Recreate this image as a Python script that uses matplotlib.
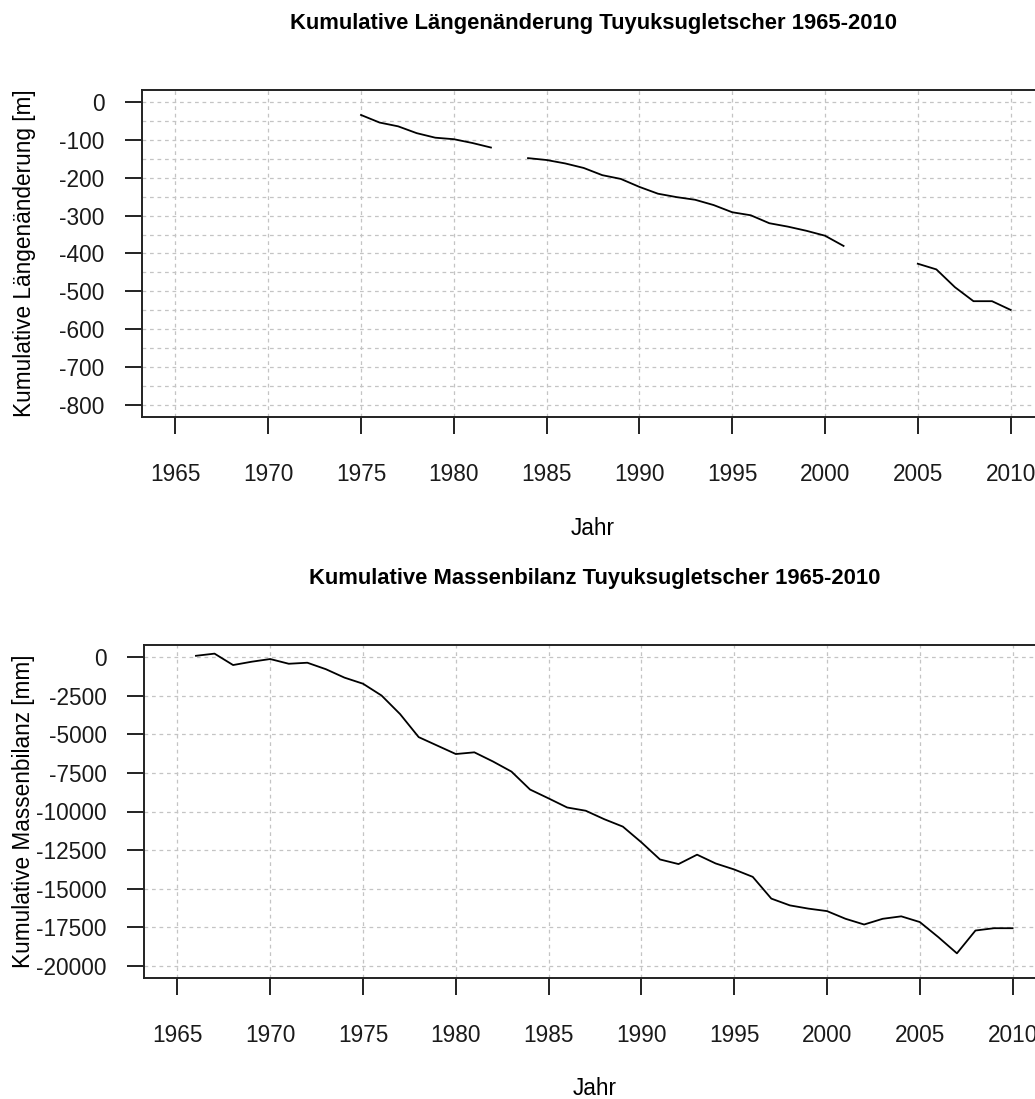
import numpy as np
import matplotlib.pyplot as plt

plt.rcParams['font.family'] = ['Liberation Sans', 'DejaVu Sans']
plt.rcParams['axes.unicode_minus'] = False

# Kumulative Längenänderung [m], NaN = keine Messung
len_years = np.arange(1975, 2011)
len_values = [-34, -54, -64, -82, -94, -98, -108, -120,
              np.nan,
              -148, -153, -162, -174, -193, -203, -224, -242, -251, -258,
              -272, -291, -299, -320, -329, -340, -353, -380,
              np.nan, np.nan, np.nan,
              -427, -442, -489, -526, -526, -549]

# Kumulative Massenbilanz [mm]
mb_years = np.arange(1966, 2011)
mb_values = [100, 240, -500, -285, -110, -417, -350, -770, -1316, -1711,
             -2478, -3684, -5175, -5724, -6272, -6162, -6754, -7412, -8575, -9150,
             -9740, -9950, -10500, -10980, -12000, -13110, -13410, -12800, -13370, -13760,
             -14240, -15650, -16090, -16300, -16460, -16960, -17330, -16960, -16800, -17170,
             -18150, -19200, -17720, -17570, -17570]

len_ticks = np.arange(-800, 1, 100)
mb_ticks = np.arange(-20000, 1, 2500)
year_ticks = np.arange(1965, 2011, 5)

W, H = 1035, 1099
fig = plt.figure(figsize=(W / 100, H / 100), dpi=100)
ax1 = fig.add_axes([142 / W, 1 - 417 / H, 902 / W, 327 / H])
ax2 = fig.add_axes([144 / W, 1 - 978 / H, 902 / W, 333 / H])

grid_kw = dict(color='#c4c4c4', linewidth=0.9, linestyle=(0, (3, 3)))


def style(ax, yticks, ylabel, title, ylab_x):
    ax.set_xlim(1965 - 1.8, 2010 + 1.8)
    ax.set_xticks(year_ticks)
    ax.set_yticks(yticks)
    ax.set_axisbelow(True)
    ax.grid(axis='x', which='major', **grid_kw)
    ax.grid(axis='y', which='both', **grid_kw)
    for s in ax.spines.values():
        s.set_linewidth(1.4)
        s.set_color('#222222')
    ax.tick_params(which='major', length=12, width=1.4, color='#222222',
                   labelsize=16.3, labelcolor='#1a1a1a')
    ax.tick_params(axis='x', pad=21)
    ax.tick_params(axis='y', pad=15)
    ax.tick_params(which='minor', length=0)
    ax.set_title(title, fontsize=15.8, fontweight='bold', pad=44)
    ax.set_xlabel('Jahr', fontsize=16.3)
    ax.set_ylabel(ylabel, fontsize=16.3)
    ax.yaxis.set_label_coords(ylab_x, 0.5)


ax1.plot(len_years, len_values, color='black', linewidth=1.3)
ax1.set_ylim(-832, 32)
ax1.set_yticks(np.arange(-800, 1, 50), minor=True)
style(ax1, len_ticks, 'Kumulative Längenänderung [m]',
      'Kumulative Längenänderung Tuyuksugletscher 1965-2010', -0.118)
ax1.xaxis.set_label_coords(0.5, -0.305)

ax2.plot(mb_years, mb_values, color='black', linewidth=1.3)
ax2.set_ylim(-20800, 800)
style(ax2, mb_ticks, 'Kumulative Massenbilanz [mm]',
      'Kumulative Massenbilanz Tuyuksugletscher 1965-2010', -0.121)
ax2.xaxis.set_label_coords(0.5, -0.297)

fig.savefig('out.png', dpi=100)
